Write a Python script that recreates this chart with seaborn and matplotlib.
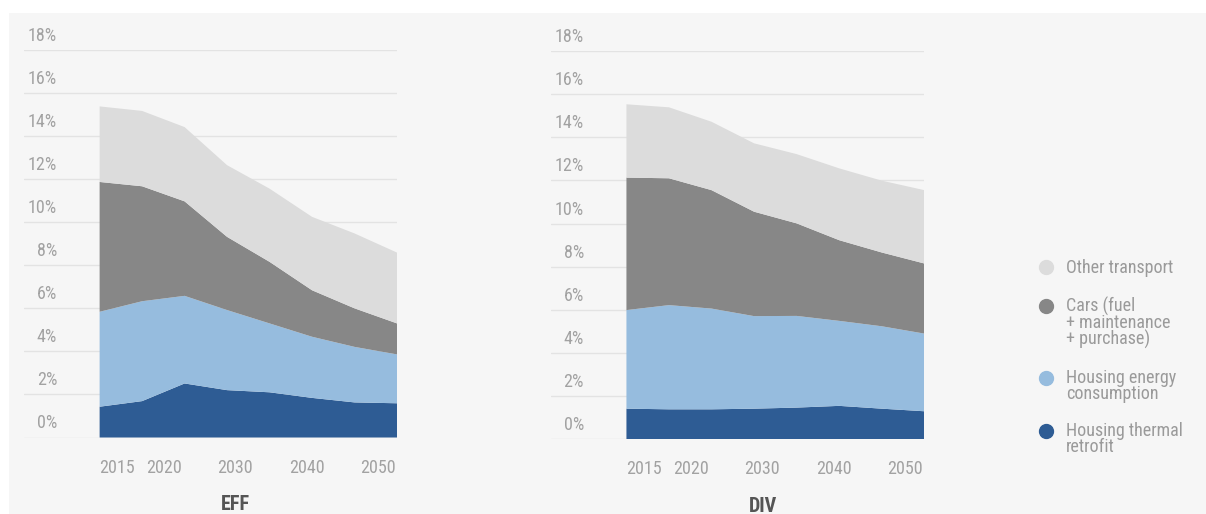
import matplotlib
matplotlib.use("Agg")
import matplotlib.pyplot as plt
import seaborn as sns
import numpy as np
import pandas as pd
from matplotlib import font_manager as fm
from matplotlib.transforms import ScaledTranslation
from matplotlib.lines import Line2D
from matplotlib.patches import Rectangle

# ---------------- data ----------------
years = [2015, 2020, 2025, 2030, 2035, 2040, 2045, 2050]
scenarios = ["EFF", "DIV"]

eff_retrofit = [1.43, 1.69, 2.51, 2.20, 2.10, 1.84, 1.63, 1.59]
eff_energy = [4.41, 4.64, 4.07, 3.72, 3.20, 2.84, 2.58, 2.27]
eff_cars = [6.03, 5.34, 4.39, 3.40, 2.86, 2.16, 1.79, 1.44]
eff_other = [3.51, 3.50, 3.45, 3.33, 3.40, 3.41, 3.48, 3.29]

div_retrofit = [1.42, 1.39, 1.39, 1.42, 1.47, 1.55, 1.42, 1.30]
div_energy = [4.57, 4.83, 4.67, 4.29, 4.25, 3.94, 3.82, 3.60]
div_cars = [6.14, 5.88, 5.49, 4.84, 4.29, 3.74, 3.42, 3.25]
div_other = [3.40, 3.29, 3.17, 3.17, 3.21, 3.33, 3.33, 3.40]

series_names = ["Housing thermal retrofit", "Housing energy consumption",
                "Cars (fuel + maintenance + purchase)", "Other transport"]
legend_labels = ["Other transport", "Cars (fuel\n+ maintenance\n+ purchase)",
                 "Housing energy\nconsumption", "Housing thermal\nretrofit"]

ytick_values = list(range(0, 19, 2))
ytick_labels = [f"{v}%" for v in ytick_values]
xtick_labels = ["2015", "2020", "2030", "2040", "2050"]

# ---------------- layout / style constants ----------------
xtick_pos = [2017.0, 2022.55, 2030.95, 2039.35, 2047.75]
colors = ["#2e5c94", "#96bcde", "#878787", "#dcdcdc"]
BG = "#f6f6f6"
TICK_C = "#a2a2a2"

sns.set_theme(style="white")
names = {f.name for f in fm.fontManager.ttflist}
base_font = "DejaVu Sans"
for cand in ["Liberation Sans Narrow", "Roboto Condensed", "DejaVu Sans Condensed", "Liberation Sans"]:
    if cand in names:
        base_font = cand
        break
plt.rcParams["font.family"] = [base_font, "DejaVu Sans"]

palette = sns.color_palette(colors)

fig = plt.figure(figsize=(12.06, 5.14), dpi=100, facecolor="white")
fig.add_artist(Rectangle((9 / 1206, 0), 1 - 9 / 1206, (514 - 13) / 514,
                         transform=fig.transFigure, facecolor=BG, edgecolor="none", zorder=-10))

W, H = 1206, 514
ax_px = [(24, 397, 437.5, 50), (550.7, 924.3, 439.3, 51)]
axes = []
for (l, r, b, t) in ax_px:
    axes.append(fig.add_axes([l / W, (H - b) / H, (r - l) / W, (b - t) / H]))

data = {
    "EFF": [eff_retrofit, eff_energy, eff_cars, eff_other],
    "DIV": [div_retrofit, div_energy, div_cars, div_other],
}

for ax, name in zip(axes, scenarios):
    ax.set_facecolor(BG)
    ax.stackplot(years, *data[name], colors=palette, labels=series_names,
                 linewidth=0, edgecolor="none")
    ax.set_xlim(2006.1, 2050)
    ax.set_ylim(0, 18)
    ax.set_yticks(ytick_values, ytick_labels)
    ax.set_xticks(xtick_pos, xtick_labels)
    ax.grid(axis="y", color="#e3e3e3", linewidth=1.0)
    ax.grid(axis="x", visible=False)
    ax.set_axisbelow(True)
    for s in ax.spines.values():
        s.set_visible(False)
    ax.tick_params(axis="y", length=0, pad=-23.8, labelsize=13, labelcolor=TICK_C)
    ax.tick_params(axis="x", length=0, pad=15.2, labelsize=13, labelcolor=TICK_C)
    ax.text(0.567, -0.172, name, transform=ax.transAxes, ha="center", va="center",
            fontsize=14.5, fontweight="bold", color="#555555")
    off = ScaledTranslation(0, 16 / 100, fig.dpi_scale_trans)
    for lab in ax.get_yticklabels():
        lab.set_transform(lab.get_transform() + off)

handles = [Line2D([], [], linestyle="none", marker="o", markersize=10,
                  markerfacecolor=c, markeredgecolor=c) for c in colors[::-1]]
leg = fig.legend(handles, legend_labels, loc="upper left",
                 bbox_to_anchor=(1038.8 / W, 1 - 259 / H), frameon=False,
                 fontsize=13, handlelength=0.8, handletextpad=0.71,
                 labelspacing=1.08, borderpad=0, borderaxespad=0,
                 labelcolor="#9a9a9a")
LS = 0.87
for t in leg.get_texts():
    t.set_linespacing(LS)
for h, lab in zip(leg.legend_handles, legend_labels):
    n = lab.count("\n")
    dy = n * 17.3 / 2
    h.set_transform(h.get_transform() + ScaledTranslation(0, dy / 100, fig.dpi_scale_trans))

fig.savefig("out.png", dpi=100, facecolor="white")
